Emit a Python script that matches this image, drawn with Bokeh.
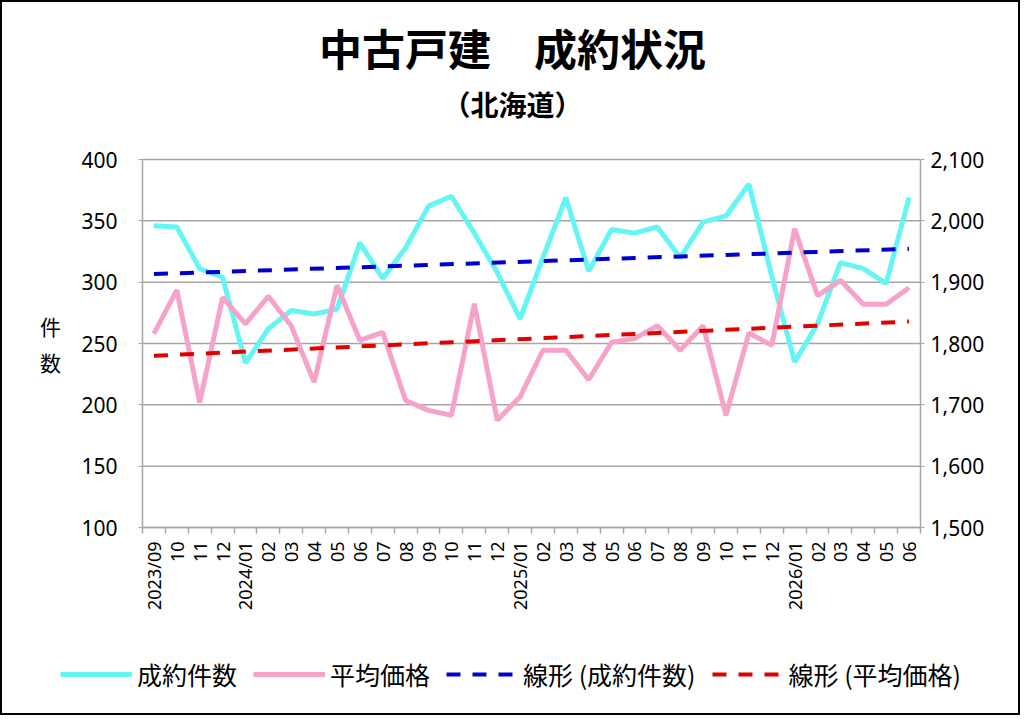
import numpy as np
from bokeh.plotting import figure
from bokeh.models import (Range1d, LinearAxis, FixedTicker, NumeralTickFormatter,
                          Legend, LegendItem, ColumnDataSource, Label)
from bokeh.embed import file_html
from bokeh.resources import INLINE

months = ["2023/09", "10", "11", "12",
          "2024/01", "02", "03", "04", "05", "06", "07", "08", "09", "10", "11", "12",
          "2025/01", "02", "03", "04", "05", "06", "07", "08", "09", "10", "11", "12",
          "2026/01", "02", "03", "04", "05", "06"]
counts = [346, 345, 311, 304,
          234, 262, 277, 274, 278, 332, 303, 328, 362, 370, 340, 308,
          270, 320, 369, 309, 343, 340, 345, 320, 349, 354, 380, 305,
          235, 266, 316, 311, 299, 369]
prices = [1816, 1887, 1704, 1875,
          1832, 1877, 1829, 1737, 1895, 1805, 1818, 1707, 1691, 1683, 1865, 1675,
          1713, 1789, 1789, 1741, 1802, 1808, 1829, 1789, 1829, 1683, 1817, 1797,
          1987, 1878, 1903, 1864, 1864, 1891]

title_text = "中古戸建\u3000成約状況"
subtitle_text = "（北海道）"
ylabel_text = "件\n数"
legend_labels = ["成約件数", "平均価格", "線形 (成約件数)", "線形 (平均価格)"]
left_ticks = [100, 150, 200, 250, 300, 350, 400]
right_ticks = [1500, 1600, 1700, 1800, 1900, 2000, 2100]
left_lim = (100, 400)
right_lim = (1500, 2100)

JP = "Noto Sans CJK JP"
NUM = "Noto Sans"
GRID = "#A6A6A6"

n = len(months)
xs = [i + 0.5 for i in range(n)]
idx = np.arange(n)
c_fit = np.polyfit(idx, counts, 1)
p_fit = np.polyfit(idx, prices, 1)
trend_x = [xs[0], xs[-1]]
trend_c = [c_fit[1], c_fit[1] + c_fit[0] * (n - 1)]
trend_p = [p_fit[1], p_fit[1] + p_fit[0] * (n - 1)]

# canvas geometry (pixels) -- the whole canvas is the plot frame
W, H = 1020, 715
PL, PR, PT, PB = 140, 918, 157, 525          # chart area inside the canvas
ppx = (PR - PL) / n                            # pixels per category
upy = (left_lim[1] - left_lim[0]) / (PB - PT)  # left units per pixel
upp = (right_lim[1] - right_lim[0]) / (PB - PT)


def dx(px):
    return (px - PL) / ppx


def dy(py):
    return left_lim[1] - (py - PT) * upy


p = figure(width=W, height=H, output_backend="svg", toolbar_location=None,
           x_range=Range1d(dx(0), dx(W)), y_range=Range1d(dy(H), dy(0)),
           min_border=0, min_border_left=0, min_border_right=0,
           min_border_top=0, min_border_bottom=0,
           x_axis_location=None, y_axis_location=None)
p.outline_line_color = None
p.background_fill_color = "white"
p.border_fill_color = "white"
p.styles = {"border": "2px solid black"}
p.extra_y_ranges = {"price": Range1d(right_lim[1] - (H - PT) * upp,
                                     right_lim[1] + PT * upp)}
p.xgrid.visible = False
p.ygrid.visible = False

# grid lines across the chart area at the left-axis ticks
p.segment(x0=0, x1=n, y0=left_ticks, y1=left_ticks, line_color=GRID,
          line_width=1.5, level="underlay")

# axes
xaxis = LinearAxis(ticker=FixedTicker(ticks=xs, minor_ticks=list(range(n + 1))),
                   fixed_location=left_lim[0], bounds=(0, n))
xaxis.major_label_overrides = {x: m for x, m in zip(xs, months)}
xaxis.major_label_orientation = np.pi / 2
xaxis.major_tick_out = 0
xaxis.major_tick_in = 0
xaxis.minor_tick_out = 6
xaxis.minor_tick_in = 0
xaxis.minor_tick_line_color = GRID
xaxis.minor_tick_line_width = 1.5
xaxis.axis_line_color = GRID
xaxis.axis_line_width = 1.5
xaxis.major_label_standoff = 8
xaxis.major_label_text_font = NUM
xaxis.major_label_text_font_size = "18px"
xaxis.major_label_text_color = "black"
p.add_layout(xaxis, "below")

yaxis = LinearAxis(ticker=FixedTicker(ticks=left_ticks), fixed_location=0, bounds=left_lim)
yaxis.major_tick_out = 4
yaxis.major_tick_in = 0
yaxis.minor_tick_line_color = None
yaxis.major_tick_line_color = GRID
yaxis.axis_line_color = GRID
yaxis.axis_line_width = 1.5
yaxis.major_label_standoff = 21
yaxis.major_label_text_font = NUM
yaxis.major_label_text_font_size = "21px"
yaxis.major_label_text_color = "black"
p.add_layout(yaxis, "left")

raxis = LinearAxis(y_range_name="price", ticker=FixedTicker(ticks=right_ticks),
                   formatter=NumeralTickFormatter(format="0,0"),
                   fixed_location=n, bounds=right_lim)
raxis.major_tick_out = 4
raxis.major_tick_in = 0
raxis.minor_tick_line_color = None
raxis.major_tick_line_color = GRID
raxis.axis_line_color = GRID
raxis.axis_line_width = 1.5
raxis.major_label_standoff = 6
raxis.major_label_text_font = NUM
raxis.major_label_text_font_size = "21px"
raxis.major_label_text_color = "black"
p.add_layout(raxis, "right")

src = ColumnDataSource(dict(x=xs, counts=counts, prices=prices))
r1 = p.line("x", "counts", source=src, line_color="#66F5F5", line_width=5)
r2 = p.line("x", "prices", source=src, y_range_name="price", line_color="#F5A3C9", line_width=5)
r3 = p.line(trend_x, trend_c, line_color="#0000CC", line_width=4, line_dash="14 12")
r4 = p.line(trend_x, trend_p, y_range_name="price", line_color="#E00000", line_width=4, line_dash="14 12")

legend = Legend(items=[LegendItem(label=legend_labels[0], renderers=[r1]),
                       LegendItem(label=legend_labels[1], renderers=[r2]),
                       LegendItem(label=legend_labels[2], renderers=[r3]),
                       LegendItem(label=legend_labels[3], renderers=[r4])],
                orientation="horizontal", location=(58, H - 690), ncols=4, nrows=1,
                glyph_width=72, glyph_height=26, label_height=26,
                label_standoff=5, spacing=16, padding=0, margin=0,
                label_text_font=JP, label_text_font_size="25px",
                label_text_color="black",
                border_line_alpha=0, background_fill_alpha=0)
p.add_layout(legend, "center")

p.add_layout(Label(x=dx(510), y=dy(44), text=title_text,
                   text_font=JP, text_font_size="43px", text_font_style="bold",
                   text_align="center", text_baseline="middle", text_color="black"))
p.add_layout(Label(x=dx(510), y=dy(101), text=subtitle_text,
                   text_font=JP, text_font_size="28px", text_font_style="bold",
                   text_align="center", text_baseline="middle", text_color="black"))
p.add_layout(Label(x=dx(48), y=dy(341), text=ylabel_text,
                   text_font=JP, text_font_size="21px", text_line_height=1.2,
                   text_align="center", text_baseline="middle", text_color="black"))

open("out.html", "w").write(file_html(p, INLINE))
